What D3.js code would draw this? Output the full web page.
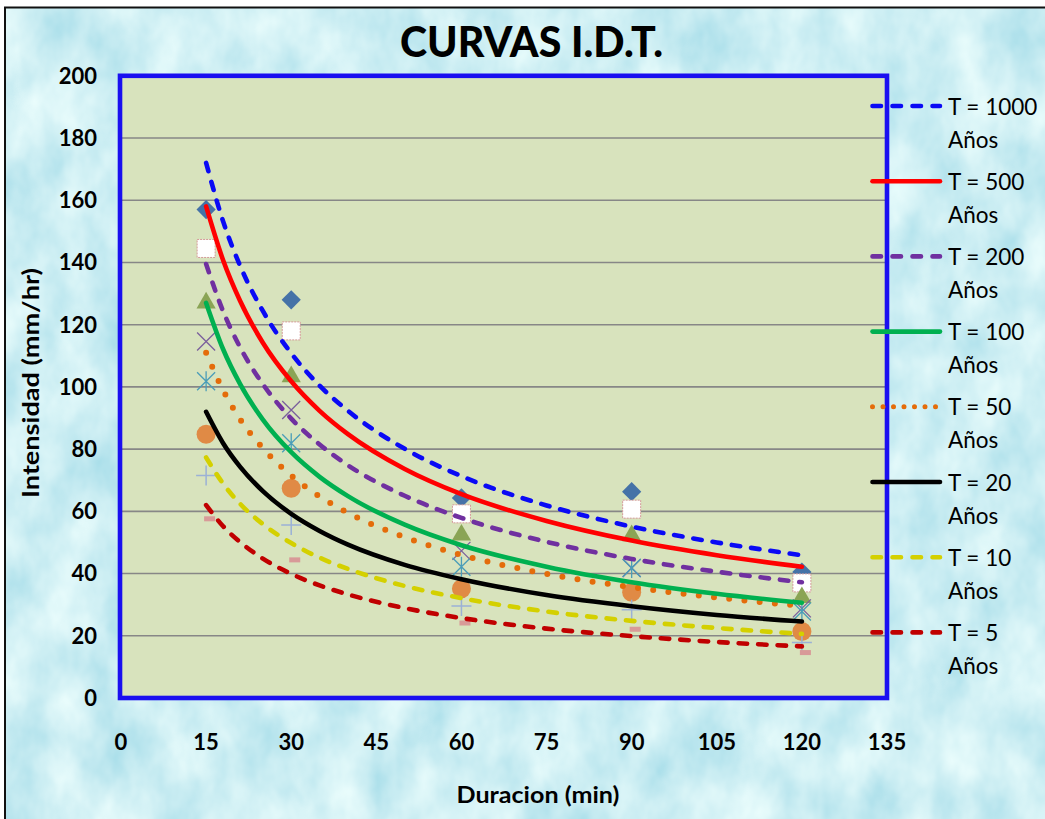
<!DOCTYPE html>
<html><head><meta charset="utf-8">
<script src="https://cdn.jsdelivr.net/npm/d3@7"></script>
<style>body{margin:0;background:#fff;} svg{display:block;}</style>
</head><body>
<svg id="chart" width="1045" height="819"></svg>
<script>
// ---- data ----
const durations = [15, 18, 21, 25, 30, 35, 40, 50, 60, 75, 90, 105, 120];
const t1000 = [172, 153.2, 138.9, 124.4, 110.8, 100.4, 92.3, 80.1, 71.3, 61.9, 55.1, 50.0, 45.9];
const t500  = [158, 140.7, 127.6, 114.2, 101.8, 92.3, 84.8, 73.6, 65.5, 56.9, 50.6, 45.9, 42.2];
const t200  = [139.5, 124.3, 112.7, 100.9, 89.8, 81.5, 74.8, 65.0, 57.9, 50.2, 44.7, 40.6, 37.2];
const t100  = [127, 112.1, 100.9, 89.5, 79.0, 71.1, 64.9, 55.7, 49.1, 42.2, 37.2, 33.5, 30.6];
const t50   = [111, 98.9, 89.6, 80.3, 71.5, 64.8, 59.5, 51.7, 46.0, 39.9, 35.6, 32.3, 29.6];
const t20   = [92, 81.9, 74.3, 66.5, 59.2, 53.7, 49.3, 42.8, 38.2, 33.1, 29.5, 26.7, 24.6];
const t10   = [77.3, 68.9, 62.4, 55.9, 49.8, 45.1, 41.5, 36.0, 32.1, 27.8, 24.8, 22.5, 20.6];
const t5    = [62, 55.2, 50.1, 44.8, 39.9, 36.2, 33.3, 28.9, 25.7, 22.3, 19.9, 18.0, 16.6];
const curveLabels = ["T = 1000", "T = 500", "T = 200", "T = 100", "T = 50", "T = 20", "T = 10", "T = 5"];

const obsDurations = [15, 30, 60, 90, 120];
const obsA = [157, 128, 64.3, 66.3, 40.5];   // diamond
const obsB = [144.5, 118, 59.2, 60.7, 37];   // square
const obsC = [127, 103.3, 52.4, 52.2, 32.3]; // triangle
const obsD = [114.6, 92.6, 47.3, 41.8, 28.8];// x
const obsE = [101.8, 81.9, 42.2, 41.8, 27.8];// star
const obsF = [84.8, 67.4, 35.1, 34.0, 21.4]; // circle
const obsG = [71.5, 55.6, 29.6, 28.4, 17.8]; // plus
const obsH = [57.6, 44.4, 24.1, 22.1, 14.6]; // dash

const xTicks = [0, 15, 30, 45, 60, 75, 90, 105, 120, 135];
const yTicks = [0, 20, 40, 60, 80, 100, 120, 140, 160, 180, 200];
const titleText = "CURVAS I.D.T.";
const xTitle = "Duracion (min)";
const yTitle = "Intensidad (mm/hr)";
const legendSub = "Años";

// ---- styles ----
const curveStyles = [
  {color:"#0a0af5", dash:"8.5,11", lw:4.6, legDash:"8.5,11.5"},
  {color:"#ff0000", dash:null, lw:4.6},
  {color:"#7030a0", dash:"8.5,11", lw:4.6, legDash:"8.5,11.5"},
  {color:"#00b050", dash:null, lw:4.6},
  {color:"#e46c0a", dash:"0,15.3", lw:6, legDash:"0,10.5", legLw:5},
  {color:"#000000", dash:null, lw:4.6},
  {color:"#d4d000", dash:"8.5,11", lw:4.6, legDash:"8.5,11.5"},
  {color:"#c00000", dash:"8.5,11", lw:4.6, legDash:"8.5,11.5"}
];

const W = 1045, H = 819;
const svg = d3.select("#chart");
const defs = svg.append("defs");
const filt = defs.append("filter").attr("id","water")
  .attr("x",0).attr("y",0).attr("width","100%").attr("height","100%");
filt.append("feTurbulence").attr("type","fractalNoise")
  .attr("baseFrequency","0.022 0.014").attr("numOctaves",4).attr("seed",11).attr("result","noise");
filt.append("feColorMatrix").attr("in","noise").attr("type","matrix")
  .attr("values","0.55 0 0 0 0.34  0.32 0 0 0 0.70  0.2 0 0 0 0.80  0 0 0 0 1");

// background
svg.append("rect").attr("x",5).attr("y",7).attr("width",W).attr("height",H)
  .attr("fill","#a4dbe8").attr("filter","url(#water)");
svg.append("rect").attr("x",5).attr("y",7.5).attr("width",W+10).attr("height",H+10)
  .attr("fill","none").attr("stroke","#111").attr("stroke-width",2);

const x = d3.scaleLinear().domain([0,135]).range([121,887]);
const y = d3.scaleLinear().domain([0,200]).range([698,75.8]);

// plot area
svg.append("rect").attr("x",x(0)-1).attr("y",y(200)).attr("width",x(135)-x(0)+1).attr("height",y(0)-y(200))
  .attr("fill","#d8e3bd");
svg.append("g").selectAll("line").data(yTicks.filter(v=>v>0&&v<200)).join("line")
  .attr("x1",x(0)).attr("x2",x(135)).attr("y1",d=>y(d)).attr("y2",d=>y(d))
  .attr("stroke","#878787").attr("stroke-width",1.6);

// markers
const mk = svg.append("g");
const pts = arr => obsDurations.map((d,i)=>[d,arr[i]]);
mk.selectAll(".dA").data(pts(obsA)).join("path")
  .attr("d", d3.symbol(d3.symbolSquare, 185)())
  .attr("transform", d=>`translate(${x(d[0])},${y(d[1])}) rotate(45)`).attr("fill","#4572a7");
mk.selectAll(".dB").data(pts(obsB)).join("rect")
  .attr("x",d=>x(d[0])-9).attr("y",d=>y(d[1])-9).attr("width",18).attr("height",18)
  .attr("fill","#ffffff").attr("stroke","#d49a98").attr("stroke-width",1).attr("stroke-dasharray","2,1");
mk.selectAll(".dC").data(pts(obsC)).join("path")
  .attr("d", d3.symbol(d3.symbolTriangle, 160)())
  .attr("transform", d=>`translate(${x(d[0])},${y(d[1])})`).attr("fill","#8aa455");
const cross = (g, data, color, s, vert, diag, horiz, w) => {
  const gg = g.append("g").attr("stroke",color).attr("stroke-width",w).attr("fill","none");
  gg.selectAll("path").data(data).join("path").attr("d", d=>{
    const cx=x(d[0]), cy=y(d[1]); let p="";
    if(diag) p+=`M${cx-s},${cy-s}L${cx+s},${cy+s}M${cx-s},${cy+s}L${cx+s},${cy-s}`;
    if(vert) p+=`M${cx},${cy-s-1}L${cx},${cy+s+1}`;
    if(horiz) p+=`M${cx-s-1},${cy}L${cx+s+1},${cy}`;
    return p;
  });
};
cross(mk, pts(obsD), "#7a5f9c", 9, false, true, false, 1.3);
cross(mk, pts(obsE), "#4a9db8", 9, true, true, false, 1.3);
mk.selectAll(".dF").data(pts(obsF)).join("circle")
  .attr("cx",d=>x(d[0])).attr("cy",d=>y(d[1])).attr("r",9.5).attr("fill","#e08a45");
cross(mk, pts(obsG), "#9bb1d6", 9, true, false, true, 1.5);
mk.selectAll(".dH").data(pts(obsH)).join("rect")
  .attr("x",d=>x(d[0])-2).attr("y",d=>y(d[1])-2.5).attr("width",11).attr("height",5)
  .attr("fill","#d89a98");

// curves
const curves = [t1000, t500, t200, t100, t50, t20, t10, t5];
const line = d3.line().x(d=>x(d[0])).y(d=>y(d[1])).curve(d3.curveMonotoneX);
const cg = svg.append("g").attr("fill","none").attr("stroke-linecap","round").attr("stroke-linejoin","round");
curves.slice().reverse().forEach((vals, ri) => {
  const i = curves.length-1-ri, st = curveStyles[i];
  cg.append("path").datum(durations.map((d,k)=>[d,vals[k]]))
    .attr("d", line).attr("stroke", st.color).attr("stroke-width", st.lw)
    .attr("stroke-dasharray", st.dash);
});

// plot border
svg.append("rect").attr("x",x(0)-1).attr("y",y(200)).attr("width",x(135)-x(0)+1).attr("height",y(0)-y(200))
  .attr("fill","none").attr("stroke","#1a0ff0").attr("stroke-width",4.6);

// axes labels
const font = "Lato, 'Open Sans', sans-serif";
svg.append("g").selectAll("text").data(yTicks).join("text")
  .attr("x",97).attr("y",d=>y(d)).attr("dy","0.36em").attr("text-anchor","end")
  .attr("font-family",font).attr("font-weight","bold").attr("font-size",22).text(d=>d);
svg.append("g").selectAll("text").data(xTicks).join("text")
  .attr("x",d=>x(d)).attr("y",749.5).attr("text-anchor","middle")
  .attr("font-family",font).attr("font-weight","bold").attr("font-size",22).text(d=>d);

svg.append("text").attr("x",531.5).attr("y",57).attr("text-anchor","middle")
  .attr("font-family",font).attr("font-weight","900").attr("font-size",42)
  .attr("textLength",263).attr("lengthAdjust","spacingAndGlyphs").text(titleText);
svg.append("text").attr("x",538).attr("y",803).attr("text-anchor","middle")
  .attr("font-family",font).attr("font-weight","bold").attr("font-size",22)
  .attr("textLength",163).attr("lengthAdjust","spacingAndGlyphs").text(xTitle);
svg.append("text").attr("transform","translate(39,383) rotate(-90)").attr("text-anchor","middle")
  .attr("font-family",font).attr("font-weight","bold").attr("font-size",22)
  .attr("textLength",230).attr("lengthAdjust","spacingAndGlyphs").text(yTitle);

// legend
const lg = svg.append("g");
curveLabels.forEach((lab, i) => {
  const st = curveStyles[i];
  const ly = 106 + i*75.2;
  lg.append("line").attr("x1",872.5).attr("x2",940).attr("y1",ly).attr("y2",ly)
    .attr("stroke",st.color).attr("stroke-width",st.legLw||st.lw).attr("stroke-linecap","round")
    .attr("stroke-dasharray",st.legDash||null);
  lg.append("text").attr("x",948).attr("y",ly+8.5)
    .attr("font-family",font).attr("font-size",22.5).attr("fill","#000").text(lab);
  lg.append("text").attr("x",948).attr("y",ly+41.5)
    .attr("font-family",font).attr("font-size",22.5).attr("fill","#000").text(legendSub);
});
</script>
</body></html>
